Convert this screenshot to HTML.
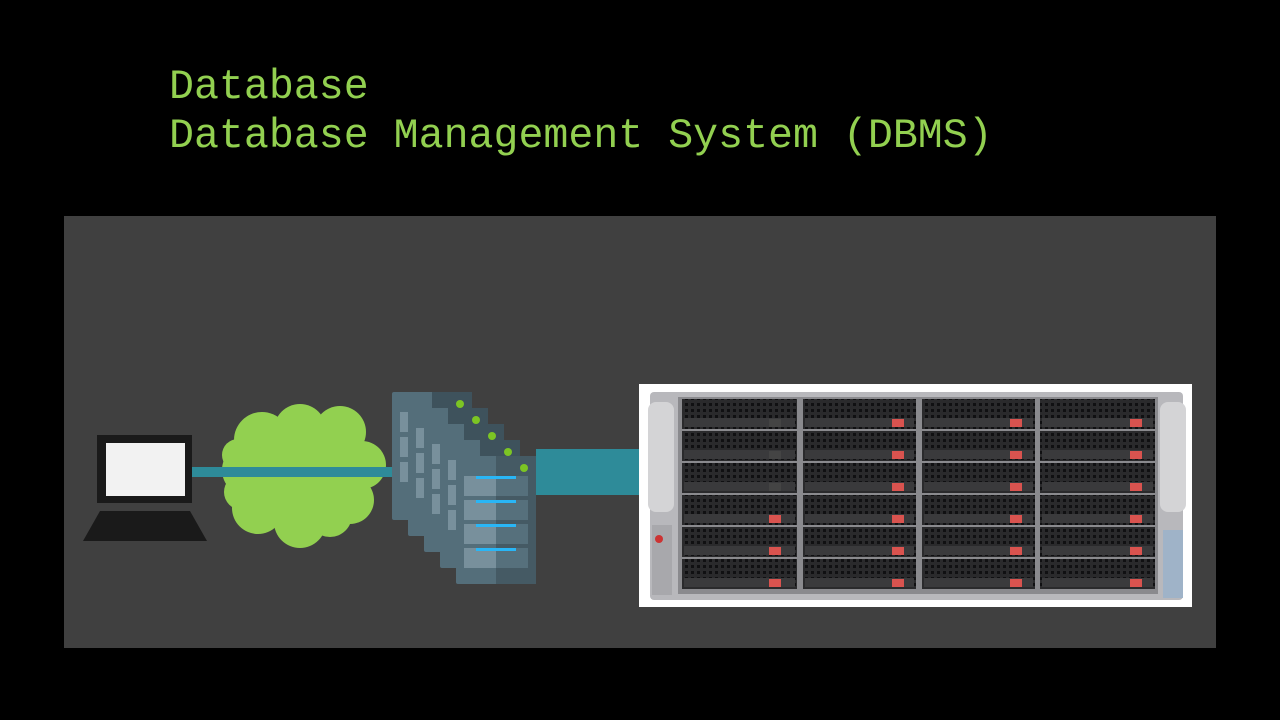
<!DOCTYPE html>
<html><head><meta charset="utf-8"><style>
body{margin:0;background:#000;width:1280px;height:720px;overflow:hidden;position:relative}
.t{position:absolute;left:169px;color:#92d050;font-family:"Liberation Mono","DejaVu Sans Mono",monospace;font-size:41.6px;line-height:48px;white-space:pre}
</style></head><body>
<div class="t" style="top:64px">Database</div>
<div class="t" style="top:113px">Database Management System (DBMS)</div>
<svg style="position:absolute;left:0;top:0" width="1280" height="720">
<defs>
<pattern id="gr" width="6" height="6" patternUnits="userSpaceOnUse"><rect width="6" height="6" fill="#2a2a2c"/><rect x="1" y="1" width="3" height="3" fill="#101012"/></pattern>
</defs>
<rect x="64" y="216" width="1152" height="432" fill="#404040"/>
<!-- laptop -->
<rect x="97" y="435" width="95" height="68" fill="#1a1a1a"/>
<rect x="106" y="443" width="79" height="53" fill="#f2f2f2"/>
<polygon points="100,511 190,511 207,541 83,541" fill="#1a1a1a"/>
<!-- cloud -->
<g fill="#92d050">
<circle cx="262" cy="440" r="28"/><circle cx="300" cy="430" r="26"/><circle cx="340" cy="432" r="26"/>
<circle cx="362" cy="465" r="24"/><circle cx="248" cy="470" r="26"/><circle cx="350" cy="500" r="24"/>
<circle cx="258" cy="508" r="26"/><circle cx="300" cy="522" r="26"/><circle cx="302" cy="472" r="48"/>
<circle cx="330" cy="515" r="22"/><circle cx="242" cy="492" r="18"/><circle cx="238" cy="455" r="16"/>
</g>
<rect x="192" y="467" width="208" height="10" fill="#2e8b99"/>
<!-- servers -->
<g>
<g transform="translate(392,392)"><rect width="80" height="128" rx="2" fill="#546e7a"/><rect x="40" width="40" height="128" fill="#455a64"/><rect x="40" width="40" height="16" fill="#3e525c"/><circle cx="68" cy="12" r="4" fill="#7cc524"/><rect x="8" y="20" width="8" height="20" fill="#78909c"/><rect x="8" y="45" width="8" height="20" fill="#78909c"/><rect x="8" y="70" width="8" height="20" fill="#78909c"/></g>
<g transform="translate(408,408)"><rect width="80" height="128" rx="2" fill="#546e7a"/><rect x="40" width="40" height="128" fill="#455a64"/><rect x="40" width="40" height="16" fill="#3e525c"/><circle cx="68" cy="12" r="4" fill="#7cc524"/><rect x="8" y="20" width="8" height="20" fill="#78909c"/><rect x="8" y="45" width="8" height="20" fill="#78909c"/><rect x="8" y="70" width="8" height="20" fill="#78909c"/></g>
<g transform="translate(424,424)"><rect width="80" height="128" rx="2" fill="#546e7a"/><rect x="40" width="40" height="128" fill="#455a64"/><rect x="40" width="40" height="16" fill="#3e525c"/><circle cx="68" cy="12" r="4" fill="#7cc524"/><rect x="8" y="20" width="8" height="20" fill="#78909c"/><rect x="8" y="45" width="8" height="20" fill="#78909c"/><rect x="8" y="70" width="8" height="20" fill="#78909c"/></g>
<g transform="translate(440,440)"><rect width="80" height="128" rx="2" fill="#546e7a"/><rect x="40" width="40" height="128" fill="#455a64"/><rect x="40" width="40" height="16" fill="#3e525c"/><circle cx="68" cy="12" r="4" fill="#7cc524"/><rect x="8" y="20" width="8" height="20" fill="#78909c"/><rect x="8" y="45" width="8" height="20" fill="#78909c"/><rect x="8" y="70" width="8" height="20" fill="#78909c"/></g>
<g transform="translate(456,456)"><rect width="80" height="128" rx="2" fill="#546e7a"/><rect x="40" width="40" height="128" fill="#455a64"/><circle cx="68" cy="12" r="4" fill="#7cc524"/>
<rect x="8" y="20" width="64" height="20" fill="#78909c"/><rect x="40" y="20" width="32" height="20" fill="#56707c"/><rect x="20" y="20" width="40" height="3" fill="#29b6f6"/>
<rect x="8" y="44" width="64" height="20" fill="#78909c"/><rect x="40" y="44" width="32" height="20" fill="#56707c"/><rect x="20" y="44" width="40" height="3" fill="#29b6f6"/>
<rect x="8" y="68" width="64" height="20" fill="#78909c"/><rect x="40" y="68" width="32" height="20" fill="#56707c"/><rect x="20" y="68" width="40" height="3" fill="#29b6f6"/>
<rect x="8" y="92" width="64" height="20" fill="#78909c"/><rect x="40" y="92" width="32" height="20" fill="#56707c"/><rect x="20" y="92" width="40" height="3" fill="#29b6f6"/></g>
</g>
<rect x="536" y="449" width="104" height="46" fill="#2e8b99"/>
<!-- storage photo -->
<rect x="639" y="384" width="553" height="223" fill="#fff"/>
<rect x="650" y="392" width="533" height="208" rx="4" fill="#b8b8bc"/>
<rect x="648" y="402" width="26" height="110" rx="8" fill="#d4d4d6"/>
<rect x="1160" y="402" width="26" height="110" rx="8" fill="#d4d4d6"/>
<rect x="652" y="525" width="20" height="70" fill="#a8a8ac"/><circle cx="659" cy="539" r="4" fill="#c33"/>
<rect x="1163" y="530" width="20" height="68" fill="#9fb3c8"/>
<rect x="678" y="397" width="480" height="197" fill="#8a8a8e"/>
<g fill="url(#gr)">
<rect x="682" y="399" width="115" height="30"/><rect x="803" y="399" width="113" height="30"/><rect x="922" y="399" width="113" height="30"/><rect x="1040" y="399" width="115" height="30"/>
<rect x="682" y="431" width="115" height="30"/><rect x="803" y="431" width="113" height="30"/><rect x="922" y="431" width="113" height="30"/><rect x="1040" y="431" width="115" height="30"/>
<rect x="682" y="463" width="115" height="30"/><rect x="803" y="463" width="113" height="30"/><rect x="922" y="463" width="113" height="30"/><rect x="1040" y="463" width="115" height="30"/>
<rect x="682" y="495" width="115" height="30"/><rect x="803" y="495" width="113" height="30"/><rect x="922" y="495" width="113" height="30"/><rect x="1040" y="495" width="115" height="30"/>
<rect x="682" y="527" width="115" height="30"/><rect x="803" y="527" width="113" height="30"/><rect x="922" y="527" width="113" height="30"/><rect x="1040" y="527" width="115" height="30"/>
<rect x="682" y="559" width="115" height="30"/><rect x="803" y="559" width="113" height="30"/><rect x="922" y="559" width="113" height="30"/><rect x="1040" y="559" width="115" height="30"/>
</g>
<g fill="#3a3a3c">
<rect x="684" y="418" width="111" height="9"/><rect x="805" y="418" width="109" height="9"/><rect x="924" y="418" width="109" height="9"/><rect x="1042" y="418" width="111" height="9"/>
<rect x="684" y="450" width="111" height="9"/><rect x="805" y="450" width="109" height="9"/><rect x="924" y="450" width="109" height="9"/><rect x="1042" y="450" width="111" height="9"/>
<rect x="684" y="482" width="111" height="9"/><rect x="805" y="482" width="109" height="9"/><rect x="924" y="482" width="109" height="9"/><rect x="1042" y="482" width="111" height="9"/>
<rect x="684" y="514" width="111" height="9"/><rect x="805" y="514" width="109" height="9"/><rect x="924" y="514" width="109" height="9"/><rect x="1042" y="514" width="111" height="9"/>
<rect x="684" y="546" width="111" height="9"/><rect x="805" y="546" width="109" height="9"/><rect x="924" y="546" width="109" height="9"/><rect x="1042" y="546" width="111" height="9"/>
<rect x="684" y="578" width="111" height="9"/><rect x="805" y="578" width="109" height="9"/><rect x="924" y="578" width="109" height="9"/><rect x="1042" y="578" width="111" height="9"/>
</g>
<g fill="#d9534f">
<rect x="769" y="419" width="12" height="8" fill="#444"/><rect x="892" y="419" width="12" height="8"/><rect x="1010" y="419" width="12" height="8"/><rect x="1130" y="419" width="12" height="8"/>
<rect x="769" y="451" width="12" height="8" fill="#444"/><rect x="892" y="451" width="12" height="8"/><rect x="1010" y="451" width="12" height="8"/><rect x="1130" y="451" width="12" height="8"/>
<rect x="769" y="483" width="12" height="8" fill="#444"/><rect x="892" y="483" width="12" height="8"/><rect x="1010" y="483" width="12" height="8"/><rect x="1130" y="483" width="12" height="8"/>
<rect x="769" y="515" width="12" height="8"/><rect x="892" y="515" width="12" height="8"/><rect x="1010" y="515" width="12" height="8"/><rect x="1130" y="515" width="12" height="8"/>
<rect x="769" y="547" width="12" height="8"/><rect x="892" y="547" width="12" height="8"/><rect x="1010" y="547" width="12" height="8"/><rect x="1130" y="547" width="12" height="8"/>
<rect x="769" y="579" width="12" height="8"/><rect x="892" y="579" width="12" height="8"/><rect x="1010" y="579" width="12" height="8"/><rect x="1130" y="579" width="12" height="8"/>
</g>
</svg>
</body></html>
